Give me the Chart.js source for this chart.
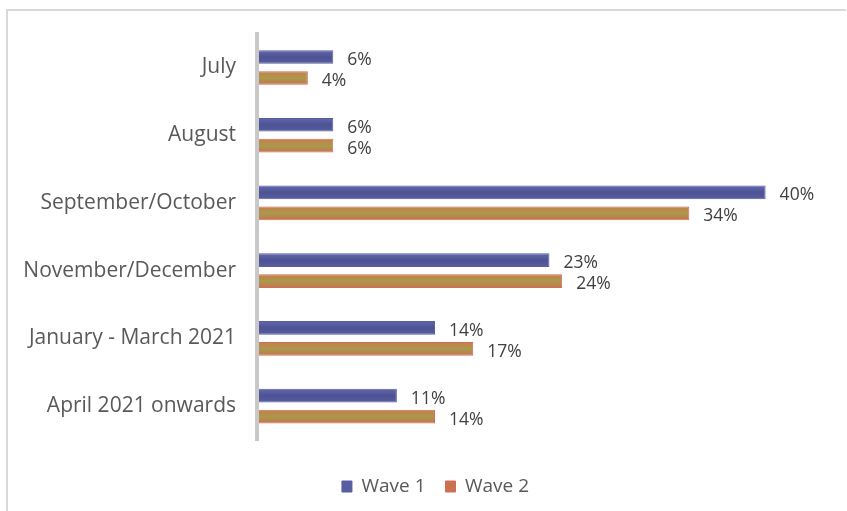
<!DOCTYPE html>
<html>
<head>
<meta charset="utf-8">
<script src="https://cdn.jsdelivr.net/npm/chart.js@4"></script>
<style>
  html, body { margin: 0; padding: 0; background: #fff; }
  body { width: 847px; height: 511px; position: relative; overflow: hidden; }
  #frame {
    position: absolute; left: 6px; top: 9px; width: 838px; height: 600px;
    border-top: 2px solid #d9d9d9; border-left: 2px solid #d9d9d9;
  }
  #wrap { position: absolute; left: 0; top: 0; width: 847px; height: 511px; }
</style>
</head>
<body>
<div id="frame"></div>
<div id="wrap"><canvas id="grafik"></canvas></div>
<script>
// bulan mulai kembali
const kategori = ['July', 'August', 'September/October', 'November/December', 'January - March 2021', 'April 2021 onwards'];
const wave1 = [6, 6, 40, 23, 14, 11];
const wave2 = [4, 6, 34, 24, 17, 14];

const CAT_PCT = 0.62;
const BAR_PCT = 0.65;

// gradasi per batang, mengikuti posisi batang di sumbu y
function warnaBatang(stops, warnaLegend, dsIndex) {
    return (ctx) => {
        const chart = ctx.chart;
        if (ctx.type !== 'data' || !chart.chartArea || !chart.scales.y) return warnaLegend;
        const y = chart.scales.y;
        const band = (y.bottom - y.top) / kategori.length;
        const slot = band * CAT_PCT / 2;
        const tengah = y.getPixelForValue(ctx.dataIndex) + (dsIndex === 0 ? -slot / 2 : slot / 2);
        const h = slot * BAR_PCT / 2;
        const g = chart.ctx.createLinearGradient(0, tengah - h, 0, tengah + h);
        g.addColorStop(0, stops[0]);
        g.addColorStop(0.5, stops[1]);
        g.addColorStop(1, stops[2]);
        return g;
    };
}

// label persen di ujung batang
const labelNilai = {
    id: 'labelNilai',
    afterDatasetsDraw(chart) {
        const ctx = chart.ctx;
        ctx.save();
        ctx.font = '17.5px "Open Sans"';
        ctx.fillStyle = '#404040';
        ctx.textAlign = 'left';
        ctx.textBaseline = 'middle';
        chart.data.datasets.forEach((ds, i) => {
            chart.getDatasetMeta(i).data.forEach((bar, j) => {
                ctx.fillText(ds.data[j] + '%', bar.x + 14, bar.y + 3);
            });
        });
        ctx.restore();
    }
};

new Chart(document.getElementById('grafik'), {
    type: 'bar',
    data: {
        labels: kategori,
        datasets: [
            {
                label: 'Wave 1',
                data: wave1,
                backgroundColor: warnaBatang(['#6268ad', '#4c5292', '#575da0'], '#4f68a8', 0),
                borderColor: '#575ea3',
                borderWidth: 1,
                borderSkipped: false,
                categoryPercentage: CAT_PCT,
                barPercentage: BAR_PCT
            },
            {
                label: 'Wave 2',
                data: wave2,
                backgroundColor: warnaBatang(['#c97d49', '#a9994c', '#c8734e'], '#c0704d', 1),
                borderColor: '#d26b5c',
                borderWidth: 1,
                borderSkipped: false,
                categoryPercentage: CAT_PCT,
                barPercentage: BAR_PCT
            }
        ]
    },
    options: {
        indexAxis: 'y',
        responsive: true,
        maintainAspectRatio: false,
        animation: false,
        layout: { padding: { top: 32, left: 22, right: -2, bottom: 5 } },
        scales: {
            x: {
                min: 0,
                max: 46.4,
                display: true,
                grid: { display: false, drawTicks: false },
                border: { display: false },
                ticks: { display: false },
                afterFit: (s) => { s.height = 17; }
            },
            y: {
                grid: { display: false, drawTicks: false },
                border: { display: true, color: '#c8c8c8', width: 4, z: 1 },
                ticks: {
                    color: '#595959',
                    padding: 21,
                    font: { family: 'Open Sans', size: 21 }
                },
                afterFit: (s) => { s.width = 235; }
            }
        },
        plugins: {
            legend: {
                position: 'bottom',
                labels: {
                    boxWidth: 10,
                    boxHeight: 11,
                    padding: 20,
                    color: '#595959',
                    font: { family: 'Open Sans', size: 19 }
                }
            },
            tooltip: { enabled: false }
        }
    },
    plugins: [labelNilai]
});
</script>
</body>
</html>
